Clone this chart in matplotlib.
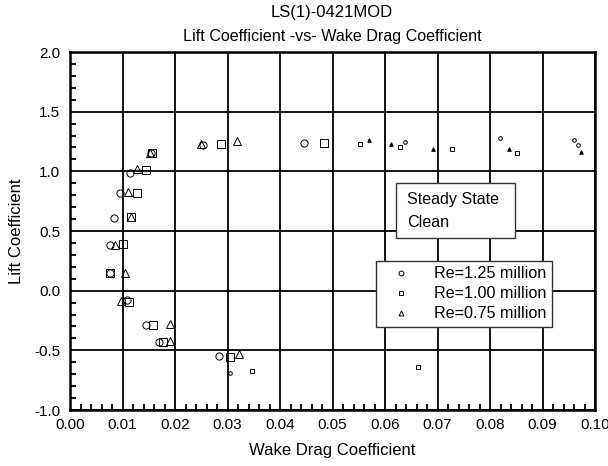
import numpy as np
import matplotlib
matplotlib.use("Agg")
import matplotlib.pyplot as plt
from matplotlib.lines import Line2D
from matplotlib.patches import Rectangle
from matplotlib.ticker import MultipleLocator, FormatStrFormatter

plt.rcParams["font.family"] = ["Liberation Sans", "DejaVu Sans"]

# Re = 1.25 million (open circles)
cd_125 = [0.0155, 0.0114, 0.0095, 0.0083, 0.0076, 0.0076, 0.0108, 0.0145,
          0.0170, 0.0283, 0.0253, 0.0446]
cl_125 = [1.15, 0.99, 0.82, 0.61, 0.38, 0.145, -0.078, -0.288,
          -0.427, -0.548, 1.22, 1.235]
cd_125_small = [0.0305, 0.0638, 0.0819, 0.0960, 0.0967]
cl_125_small = [-0.687, 1.248, 1.277, 1.263, 1.221]

# Re = 1.00 million (open squares)
cd_100 = [0.0157, 0.0145, 0.0128, 0.0116, 0.0100, 0.0076, 0.0113, 0.0158,
          0.0178, 0.0305, 0.0288, 0.0484]
cl_100 = [1.15, 1.01, 0.82, 0.62, 0.39, 0.145, -0.092, -0.288,
          -0.427, -0.553, 1.229, 1.235]
cd_100_small = [0.0346, 0.0663, 0.0552, 0.0629, 0.0727, 0.0851]
cl_100_small = [-0.671, -0.642, 1.229, 1.201, 1.185, 1.151]

# Re = 0.75 million (open triangles)
cd_075 = [0.0153, 0.0128, 0.0111, 0.0116, 0.0086, 0.0105, 0.0097, 0.0190,
          0.0190, 0.0322, 0.0249, 0.0319]
cl_075 = [1.15, 1.017, 0.83, 0.62, 0.38, 0.145, -0.084, -0.282,
          -0.42, -0.531, 1.23, 1.254]
cd_075_small = [0.0570, 0.0611, 0.0692, 0.0836, 0.0973]
cl_075_small = [1.263, 1.227, 1.185, 1.185, 1.165]

labels = ["Re=1.25 million", "Re=1.00 million", "Re=0.75 million"]

W, H = 608, 466
TXT = 11.6
fig = plt.figure(figsize=(W / 100, H / 100), dpi=100)
ax = fig.add_axes([70 / W, 1 - 410 / H, 525 / W, 358 / H])


def fig_box(x0, y0, x1, y1):
    """White framed rectangle in pixel coords (origin top-left)."""
    r = Rectangle((x0 / W, 1 - y1 / H), (x1 - x0) / W, (y1 - y0) / H,
                  transform=fig.transFigure, facecolor="white",
                  edgecolor="#333333", linewidth=1.0, zorder=5)
    fig.add_artist(r)


big = dict(linestyle="none", markerfacecolor="none", markeredgecolor="black",
           markeredgewidth=0.7, markersize=5.2, zorder=3)
small = dict(linestyle="none", markeredgecolor="black", markeredgewidth=0.7,
             markersize=2.6, zorder=3)

ax.plot(cd_125, cl_125, marker="o", **big)
ax.plot(cd_100, cl_100, marker="s", **big)
ax.plot(cd_075, cl_075, marker="^", **big)
ax.plot(cd_125_small, cl_125_small, marker="o", markerfacecolor="none", **small)
ax.plot(cd_100_small, cl_100_small, marker="s", markerfacecolor="none", **small)
ax.plot(cd_075_small, cl_075_small, marker="^", markerfacecolor="black", **small)

ax.set_xlim(0.0, 0.10)
ax.set_ylim(-1.0, 2.0)
ax.xaxis.set_major_locator(MultipleLocator(0.01))
ax.xaxis.set_minor_locator(MultipleLocator(0.002))
ax.yaxis.set_major_locator(MultipleLocator(0.5))
ax.yaxis.set_minor_locator(MultipleLocator(0.1))
ax.xaxis.set_major_formatter(FormatStrFormatter("%.2f"))
ax.yaxis.set_major_formatter(FormatStrFormatter("%.1f"))

ax.grid(True, which="major", color="black", linewidth=1.3)
ax.set_axisbelow(True)
ax.tick_params(which="both", direction="in", top=False, right=False,
               labelsize=11, width=1.3)
ax.tick_params(which="major", length=0)
ax.tick_params(axis="x", which="major", pad=6)
ax.tick_params(axis="y", which="major", pad=7)
ax.tick_params(which="minor", length=4)
for s in ax.spines.values():
    s.set_linewidth(1.8)

ax.set_xlabel("Wake Drag Coefficient", fontsize=12, labelpad=8)
ax.set_ylabel("Lift Coefficient", fontsize=12, labelpad=7)
fig.text(332 / W, 1 - 12 / H, "LS(1)-0421MOD", ha="center", va="center",
         fontsize=12)
fig.text(332 / W, 1 - 37 / H, "Lift Coefficient -vs- Wake Drag Coefficient",
         ha="center", va="center", fontsize=TXT)

# annotation box
fig_box(396, 183, 515, 238)
fig.text(407 / W, 1 - 199 / H, "Steady State", fontsize=TXT, va="center",
         zorder=6)
fig.text(407 / W, 1 - 222 / H, "Clean", fontsize=TXT, va="center", zorder=6)

handles = [
    Line2D([], [], linestyle="none", marker=m, markerfacecolor="none",
           markeredgecolor="black", markeredgewidth=0.7, markersize=3.5)
    for m in ["o", "s", "^"]
]
leg = ax.legend(handles, labels, loc="upper left",
                bbox_to_anchor=(376 / W, 1 - 261 / H),
                bbox_transform=fig.transFigure, borderaxespad=0,
                fontsize=TXT, handlelength=2.5, handletextpad=0.8,
                labelspacing=0.32, borderpad=0.32, numpoints=1,
                fancybox=False, framealpha=1, edgecolor="#333333")
leg.get_frame().set_linewidth(1.0)
leg.set_zorder(5)

fig.savefig("out.png", dpi=100)
